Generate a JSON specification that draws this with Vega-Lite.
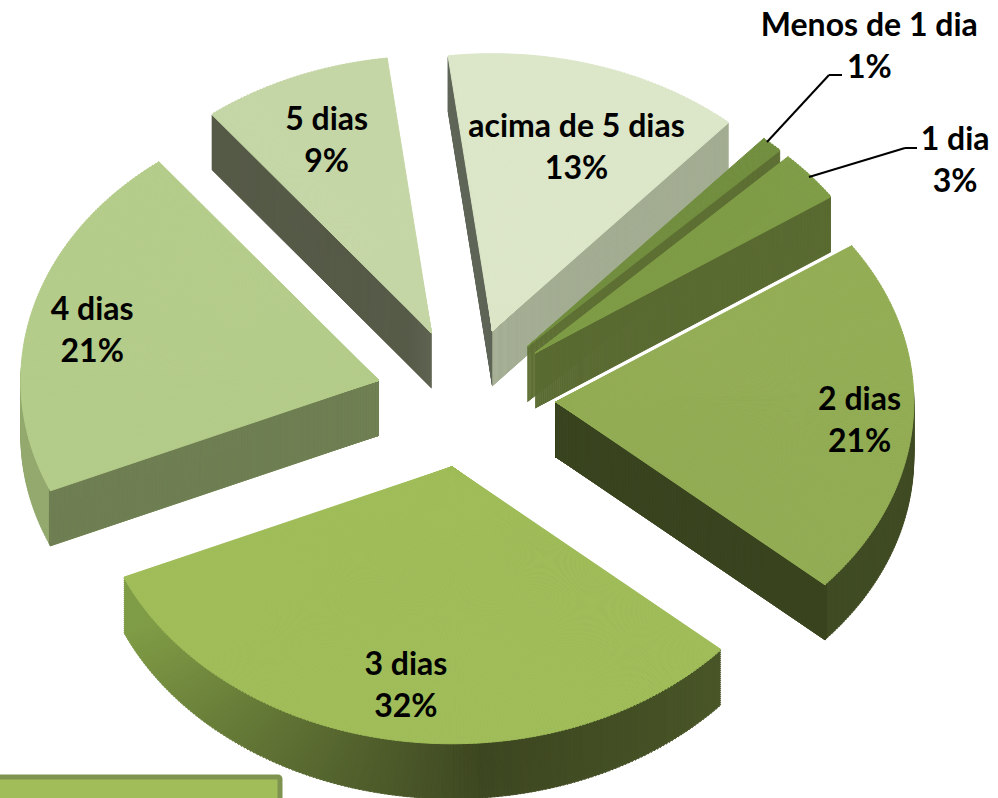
{
"$schema":"https://vega.github.io/schema/vega-lite/v6.json",
"width":998,"height":798,"padding":0,"autosize":{"type":"none"},
"background":"white","view":{"stroke":null},
"config":{"legend":{"strokeWidth":5}},
"data":{"values":[
{"cat":"acima de 5 dias","share":13.45},
{"cat":"Menos de 1 dia","share":1},
{"cat":"1 dia","share":3},
{"cat":"2 dias","share":21},
{"cat":"3 dias","share":32},
{"cat":"4 dias","share":21},
{"cat":"5 dias","share":8.55}
]},
"transform":[
{"window":[{"op":"sum","field":"share","as":"s1"}],"frame":[null,0],"ignorePeers":true},
{"calculate":"-7.12+(datum.s1-datum.share)*3.6","as":"d0"},
{"calculate":"datum.share*3.6","as":"dw"},
{"calculate":"ceil(datum.dw/0.6)","as":"n"},
{"calculate":"(datum.d0+datum.dw/2)*PI/180","as":"mid"},
{"calculate":"466+90*sin(datum.mid)","as":"cx"},
{"calculate":"397.6-70*cos(datum.mid)","as":"cy"},
{"calculate":"sequence(0,datum.n)","as":"subs"},
{"flatten":["subs"],"as":["sub"]},
{"calculate":"(datum.d0+datum.sub*datum.dw/datum.n)*PI/180","as":"t0"},
{"calculate":"datum.t0+datum.dw/datum.n*PI/180","as":"t1"},
{"calculate":"(datum.t0+datum.t1)/2","as":"tm"},
{"calculate":"atan2(358*sin(datum.t0),277*cos(datum.t0))","as":"a0"},
{"calculate":"atan2(358*sin(datum.t1),277*cos(datum.t1))","as":"a1"},
{"calculate":"datum.a0+2*PI*round((datum.t0-datum.a0)/(2*PI))","as":"th0"},
{"calculate":"datum.a1+2*PI*round((datum.t1-datum.a1)/(2*PI))","as":"th1"},
{"calculate":"sqrt(pow(358*sin(datum.tm),2)+pow(277*cos(datum.tm),2))","as":"r"},
{"calculate":"datum.tm*180/PI","as":"deg"}
],
"layer":[
{"transform":[
 {"filter":"datum.cat!='3 dias' && cos(datum.tm)<0.05"},
 {"calculate":"sequence(1,56,2)","as":"ds"},{"flatten":["ds"],"as":["depth"]},
 {"calculate":"datum.cy+datum.depth","as":"wy"}],
 "mark":{"type":"arc","strokeWidth":1,"strokeJoin":"round"},
 "encoding":{
  "x":{"field":"cx","type":"quantitative","scale":null},
  "y":{"field":"wy","type":"quantitative","scale":null},
  "theta":{"field":"th0","type":"quantitative","scale":null},
  "theta2":{"field":"th1"},
  "radius":{"field":"r","type":"quantitative","scale":null},
  "fill":{"field":"cat","type":"nominal","legend":null,"scale":{"domain":["acima de 5 dias","Menos de 1 dia","1 dia","2 dias","4 dias","5 dias"],"range":["#a3ad92","#5a6b30","#5b6d32","#404c24","#93a96e","#565b48"]}},
  "stroke":{"field":"cat","type":"nominal","legend":null,"scale":{"domain":["acima de 5 dias","Menos de 1 dia","1 dia","2 dias","4 dias","5 dias"],"range":["#a3ad92","#5a6b30","#5b6d32","#404c24","#93a96e","#565b48"]}}
 }},
{"transform":[
 {"filter":"datum.cat=='3 dias'"},
 {"calculate":"sequence(1,56,2)","as":"ds"},{"flatten":["ds"],"as":["depth"]},
 {"calculate":"datum.cy+datum.depth","as":"wy"}],
 "mark":{"type":"arc","strokeWidth":1,"strokeJoin":"round"},
 "encoding":{
  "x":{"field":"cx","type":"quantitative","scale":null},
  "y":{"field":"wy","type":"quantitative","scale":null},
  "theta":{"field":"th0","type":"quantitative","scale":null},
  "theta2":{"field":"th1"},
  "radius":{"field":"r","type":"quantitative","scale":null},
  "fill":{"field":"deg","type":"quantitative","legend":null,"scale":{"domain":[130,175,245],"range":["#4a5728","#3e4822","#7e9a45"]}},
  "stroke":{"field":"deg","type":"quantitative","legend":null,"scale":{"domain":[130,175,245],"range":["#4a5728","#3e4822","#7e9a45"]}}
 }},
{"transform":[
 {"calculate":"datum.sub==0?'s':(datum.sub==datum.n-1?'e':'m')","as":"edge"},
 {"calculate":"datum.cat+'|'+datum.edge","as":"wk"},
 {"filter":{"field":"wk","oneOf":["acima de 5 dias|s","5 dias|s","4 dias|s","Menos de 1 dia|e","1 dia|e","2 dias|e","acima de 5 dias|e"]}},
 {"calculate":"sequence(1,56,1)","as":"ds"},{"flatten":["ds"],"as":["depth"]},
 {"calculate":"datum.cy+datum.depth","as":"wy"}],
 "mark":{"type":"arc","strokeWidth":1,"strokeJoin":"round"},
 "encoding":{
  "x":{"field":"cx","type":"quantitative","scale":null},
  "y":{"field":"wy","type":"quantitative","scale":null},
  "theta":{"field":"th0","type":"quantitative","scale":null},
  "theta2":{"field":"th1"},
  "radius":{"field":"r","type":"quantitative","scale":null},
  "fill":{"field":"wk","type":"nominal","legend":null,"scale":{"domain":["acima de 5 dias|s","acima de 5 dias|e","5 dias|s","4 dias|s","Menos de 1 dia|e","1 dia|e","2 dias|e"],"range":["#5f6658","#a3ad92","#565b48","#6f7f53","#5f7034","#5a6b32","#3a4520"]}},
  "stroke":{"field":"wk","type":"nominal","legend":null,"scale":{"domain":["acima de 5 dias|s","acima de 5 dias|e","5 dias|s","4 dias|s","Menos de 1 dia|e","1 dia|e","2 dias|e"],"range":["#5f6658","#a3ad92","#565b48","#6f7f53","#5f7034","#5a6b32","#3a4520"]}}
 }},
{"mark":{"type":"arc","strokeWidth":1,"strokeJoin":"round"},
 "encoding":{
  "x":{"field":"cx","type":"quantitative","scale":null},
  "y":{"field":"cy","type":"quantitative","scale":null},
  "theta":{"field":"th0","type":"quantitative","scale":null},
  "theta2":{"field":"th1"},
  "radius":{"field":"r","type":"quantitative","scale":null},
  "fill":{"field":"cat","type":"nominal","sort":null,
   "scale":{"domain":["acima de 5 dias","Menos de 1 dia","1 dia","2 dias","3 dias","4 dias","5 dias"],"range":["#dce6c8","#728e3f","#7f9c47","#93ad55","#a0bd5a","#b4cc8a","#c5d6a6"]},
   "legend":{"title":null,"orient":"none","legendX":-6,"legendY":777,"direction":"vertical","columns":1,"padding":135,"fillColor":"#a0bd5a","strokeColor":"#7f9350","labelExpr":"''","symbolSize":100,"cornerRadius":2}},
  "stroke":{"field":"cat","type":"nominal","legend":null,
   "scale":{"domain":["acima de 5 dias","Menos de 1 dia","1 dia","2 dias","3 dias","4 dias","5 dias"],"range":["#dce6c8","#728e3f","#7f9c47","#93ad55","#a0bd5a","#b4cc8a","#c5d6a6"]}}
 }},
{"transform":[
 {"filter":"datum.sub==0 && datum.share<5"},
 {"calculate":"{'Menos de 1 dia':[767,142,829,75],'1 dia':[809,177,905,148]}[datum.cat]","as":"lp"},
 {"calculate":"datum.lp[0]","as":"ax"},{"calculate":"datum.lp[1]","as":"ay"},
 {"calculate":"datum.lp[2]","as":"bx"},{"calculate":"datum.lp[3]","as":"by"}],
 "mark":{"type":"rule","color":"black","strokeWidth":2},
 "encoding":{
  "x":{"field":"ax","type":"quantitative","scale":null},"y":{"field":"ay","type":"quantitative","scale":null},
  "x2":{"field":"bx"},"y2":{"field":"by"}}},
{"transform":[
 {"filter":"datum.sub==0 && datum.share<5"},
 {"calculate":"{'Menos de 1 dia':[829,75,842,75],'1 dia':[905,148,917,148]}[datum.cat]","as":"lp"},
 {"calculate":"datum.lp[0]","as":"ax"},{"calculate":"datum.lp[1]","as":"ay"},
 {"calculate":"datum.lp[2]","as":"bx"},{"calculate":"datum.lp[3]","as":"by"}],
 "mark":{"type":"rule","color":"black","strokeWidth":2},
 "encoding":{
  "x":{"field":"ax","type":"quantitative","scale":null},"y":{"field":"ay","type":"quantitative","scale":null},
  "x2":{"field":"bx"},"y2":{"field":"by"}}},
{"transform":[
 {"filter":"datum.sub==0"},
 {"calculate":"datum.cat+'\\n'+round(datum.share)+'%'","as":"lab"},
 {"calculate":"{'acima de 5 dias':[2,3],'Menos de 1 dia':[151,-163],'1 dia':[205,-75],'2 dias':[25,-15],'3 dias':[-3,-15],'4 dias':[-16,-17],'5 dias':[2,-13]}[datum.cat]","as":"off"},
 {"calculate":"datum.cx+0.78*358*sin(datum.mid)+datum.off[0]","as":"lx"},
 {"calculate":"datum.cy-0.78*277*cos(datum.mid)+datum.off[1]","as":"ly"}],
 "mark":{"type":"text","font":"Lato","fontWeight":"bold","fontSize":32,"lineHeight":42,"lineBreak":"\n","align":"center","baseline":"middle","color":"black"},
 "encoding":{
  "x":{"field":"lx","type":"quantitative","scale":null},
  "y":{"field":"ly","type":"quantitative","scale":null},
  "text":{"field":"lab","type":"nominal"}}}
]
}
